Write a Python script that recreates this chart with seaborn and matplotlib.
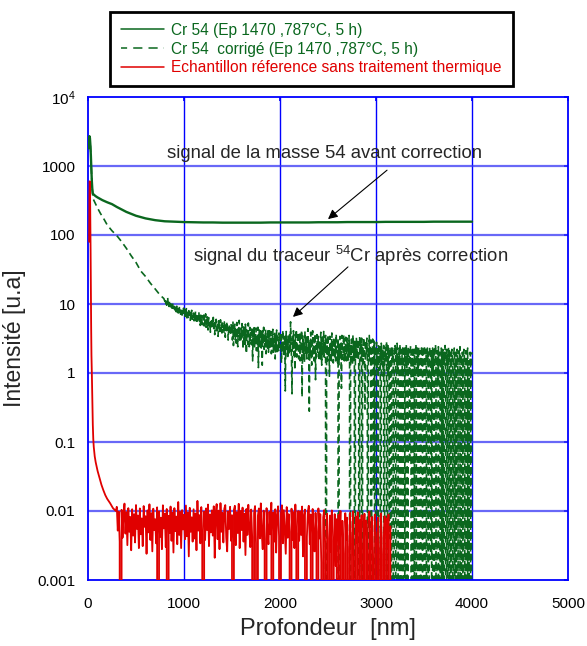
import numpy as np
import pandas as pd
import matplotlib
matplotlib.use('Agg')
import matplotlib.pyplot as plt
import seaborn as sns
from matplotlib.lines import Line2D

sns.set_theme(style='white')
plt.rcParams['font.family'] = ['Liberation Sans', 'DejaVu Sans']
plt.rcParams['mathtext.fontset'] = 'custom'
plt.rcParams['mathtext.rm'] = 'Liberation Sans'
plt.rcParams['mathtext.it'] = 'Liberation Sans:italic'

GREEN = '#0a671e'
RED = '#e00000'
BLUE = '#0000ff'

# --- Cr 54 raw signal (nm, counts) ---
cr54_depth = [5, 10, 15, 20, 25, 30, 35, 40, 45, 50, 60, 80, 100, 150, 200,
              250, 300, 400, 500, 600, 700, 800]
cr54_value = [1800, 2500, 2700, 2550, 2000, 1400, 900, 600, 460, 400, 385, 365,
              350, 320, 298, 280, 255, 216, 190, 174, 164, 158]
# plateau, one value every 100 nm from 900 to 4000
cr54_plateau = [156, 154, 153, 152, 152, 151, 151, 151, 151, 151, 152, 152,
                152, 152, 152, 153, 153, 153, 154, 154, 154, 154, 155, 155,
                155, 155, 155, 156, 156, 156, 156, 156]

# --- Cr 54 corrected (tracer) ---
corr_depth = [5, 10, 15, 20, 25, 30, 35, 40, 45, 50, 60, 80, 100, 130, 160,
              200, 250, 300, 350, 400, 450, 500, 550, 600, 650, 700, 750, 790]
corr_value = [1800, 2500, 2700, 2550, 2000, 1400, 900, 600, 460, 338, 320, 280,
              245, 205, 176, 140, 115, 98, 80, 64, 50, 40, 30, 25, 20, 16.5,
              13.5, 12]
# noisy part, every 5 nm from 800 to 4000 (0 = signal fully subtracted)
corr_noise = [
    11.0, 12.2, 10.1, 11.6, 9.6, 10.9, 12.4, 9.9, 10.6, 9.2, 11.3, 10.0, 9.1, 10.8, 9.5, 8.7, 10.4, 9.3, 8.6, 9.9,
    9.0, 8.2, 9.7, 8.4, 7.7, 9.3, 8.1, 8.9, 7.4, 8.6, 9.5, 7.6, 8.3, 7.1, 8.8, 7.9, 6.9, 8.2, 7.5, 8.7,
    7.3, 8.4, 6.6, 7.8, 6.9, 8.9, 6.3, 7.5, 7.0, 6.1, 8.0, 6.7, 7.6, 5.8, 7.2, 6.5, 8.1, 6.0, 7.0, 6.4,
    7.4, 5.7, 6.8, 6.1, 7.9, 5.5, 6.6, 5.2, 7.1, 6.3, 5.9, 7.7, 5.4, 6.4, 4.9, 6.9, 5.8, 6.2, 5.0, 6.7,
    5.6, 6.9, 4.8, 6.2, 5.3, 7.2, 4.6, 5.9, 5.1, 6.5, 4.2, 5.7, 6.3, 4.9, 5.5, 3.9, 6.1, 5.2, 4.7, 5.8,
    5.0, 6.4, 4.4, 5.6, 3.6, 5.3, 4.7, 6.0, 4.1, 5.2, 4.8, 3.4, 5.7, 4.5, 5.1, 4.0, 5.9, 4.3, 4.9, 3.8,
    5.3, 4.2, 4.8, 3.7, 5.5, 4.4, 3.3, 4.9, 4.1, 5.6, 3.9, 4.6, 3.0, 4.4, 5.0, 3.8, 4.5, 3.5, 5.2, 4.0,
    4.6, 3.0, 5.6, 2.5, 4.2, 3.9, 5.1, 3.0, 4.3, 2.7, 5.4, 3.8, 2.4, 4.4, 3.5, 5.8, 3.0, 4.0, 2.8, 4.5,
    3.2, 5.2, 3.7, 2.2, 4.8, 2.9, 4.6, 2.6, 5.1, 3.4, 1.9, 4.2, 3.0, 2.6, 5.3, 3.3, 2.4, 4.6, 3.0, 3.8,
    2.6, 4.7, 3.4, 1.5, 4.3, 2.7, 4.9, 2.3, 3.6, 2.8, 4.5, 2.1, 3.5, 2.5, 4.6, 1.2, 3.3, 4.2, 2.4, 3.4,
    4.4, 2.3, 3.4, 1.3, 4.1, 2.6, 4.6, 2.2, 3.3, 2.4, 4.3, 1.9, 3.5, 2.7, 2.3, 4.4, 2.0, 3.2, 4.1, 2.5,
    2.3, 4.0, 1.9, 3.2, 2.4, 4.3, 2.0, 3.1, 2.2, 3.9, 1.6, 3.0, 2.3, 4.2, 1.9, 3.3, 2.5, 2.1, 3.8, 2.4,
    3.3, 2.3, 3.9, 1.4, 2.9, 2.0, 4.2, 2.1, 2.8, 1.7, 3.6, 0.55, 2.7, 4.0, 2.2, 3.0, 1.6, 3.5, 1.8, 2.6,
    3.8, 2.0, 5.5, 2.7, 1.6, 0.5, 3.4, 2.3, 4.1, 1.8, 2.6, 1.1, 3.6, 2.0, 4.3, 1.7, 2.7, 2.2, 3.9, 1.6,
    2.1, 3.8, 1.5, 2.6, 2.3, 4.2, 0.45, 2.5, 3.5, 1.7, 2.7, 1.4, 4.0, 2.4, 1.8, 3.3, 1.6, 2.6, 4.4, 2.0,
    3.1, 0.28, 2.7, 1.7, 3.9, 2.4, 1.3, 2.6, 4.1, 1.8, 3.2, 1.5, 2.4, 3.7, 0.8, 2.5, 1.7, 3.6, 2.0, 2.6,
    3.4, 1.5, 2.8, 2.4, 1.6, 3.9, 2.5, 1.3, 3.3, 1.8, 2.6, 4.0, 1.7, 2.7, 2.0, 3.5, 0.0, 2.2, 3.1, 1.5,
    3.6, 1.7, 2.4, 0.9, 3.4, 2.0, 2.9, 1.5, 3.8, 1.8, 2.8, 1.4, 3.3, 2.6, 1.6, 3.0, 1.5, 3.7, 2.2, 1.8,
    1.4, 3.2, 0.0, 2.6, 1.6, 3.4, 1.8, 2.7, 0.6, 3.5, 2.0, 1.6, 2.9, 3.6, 1.5, 2.4, 1.7, 3.3, 1.5, 2.3,
    3.2, 1.4, 2.7, 1.8, 3.5, 2.2, 0.0, 2.6, 1.5, 3.1, 2.5, 1.3, 3.6, 2.1, 1.6, 3.0, 0.0, 2.6, 1.7, 3.3,
    2.5, 1.6, 3.1, 2.7, 1.4, 0.0, 3.4, 2.0, 2.6, 1.5, 3.2, 0.0, 2.5, 1.4, 3.3, 2.7, 1.6, 0.3, 3.0, 1.9,
    2.1, 3.2, 1.5, 0.0, 2.4, 1.6, 3.5, 1.5, 2.3, 3.0, 0.0, 2.1, 1.5, 3.1, 2.2, 0.02, 2.9, 1.6, 0.0, 2.3,
    1.9, 2.8, 1.2, 2.2, 0.0, 2.6, 2.0, 1.1, 2.4, 1.6, 0.0, 2.7, 1.5, 1.8, 2.3, 0.9, 2.5, 0.0, 2.0, 1.7,
    2.3, 1.4, 2.9, 0.0, 1.9, 2.6, 1.0, 2.2, 0.004, 2.4, 1.8, 2.1, 0.0, 2.5, 1.6, 2.0, 1.2, 0.0, 2.4, 1.9,
    2.5, 1.7, 0.0, 2.1, 2.7, 1.1, 1.8, 0.0, 2.3, 1.4, 2.6, 2.0, 0.0, 1.6, 2.2, 0.9, 2.5, 0.0, 2.1, 1.5,
    2.3, 0.0, 1.8, 2.6, 1.2, 2.0, 0.0, 2.4, 1.7, 2.2, 0.05, 1.3, 2.5, 1.9, 0.0, 2.1, 1.0, 2.4, 0.0, 1.8,
    2.2, 0.0, 1.5, 2.6, 1.9, 0.0, 2.3, 1.7, 0.9, 2.4, 0.0, 1.4, 2.1, 1.8, 0.0, 2.5, 1.2, 2.0, 0.0, 1.6,
    2.0, 2.5, 0.0, 1.4, 2.2, 1.1, 0.0, 2.3, 1.6, 2.0, 0.0, 1.3, 2.4, 1.8, 0.002, 2.1, 1.5, 0.0, 2.3, 1.0,
    1.6, 2.2, 0.0, 1.9, 2.6, 1.4, 0.0, 2.1, 1.7, 0.8, 2.4, 0.0, 1.5, 2.0, 1.2, 0.0, 2.3, 1.8, 0.0, 2.2,
    1.7, 0.0, 2.0, 1.5, 2.5, 0.9, 0.0, 2.2, 1.3, 1.9, 0.0, 2.4, 1.6, 2.1, 0.0, 1.4, 2.0, 0.0, 2.2, 1.7,
    1.1, 0.0, 1.9, 2.3, 1.4, 0.0, 2.0, 1.7, 0.0, 2.2, 1.5, 0.9, 0.0, 2.1, 1.6, 2.4, 0.0, 1.3, 1.8, 0.0,
    2.0, 1.5, 0.0, 2.2, 1.8, 1.0, 0.0, 2.1, 1.4, 0.0, 1.9, 2.3, 0.0, 1.5, 1.2, 0.0, 2.0, 1.7, 0.0, 1.8,
    2.0,
]

# --- reference sample without heat treatment ---
ref_depth = [12, 15, 18, 21, 24, 27, 30, 33, 36, 40, 45, 50, 55, 60, 70, 80,
             90, 100, 120, 140, 160, 180, 200, 230, 260, 290]
ref_value = [80, 350, 600, 520, 200, 60, 15, 4.5, 1.8, 1.0, 0.4, 0.18, 0.11,
             0.085, 0.062, 0.051, 0.044, 0.038, 0.030, 0.024, 0.020, 0.017,
             0.015, 0.013, 0.011, 0.010]
# noisy floor, every 10 nm from 300 to 3150, in units of 1e-3
ref_noise_milli = [
    11.5, 5.2, 9.8, 3.6, 0.0, 10.4, 4.1, 8.9, 12.8, 4.7,
    9.6, 3.2, 11.0, 5.0, 8.2, 2.7, 10.6, 4.4, 9.0, 3.5,
    12.2, 5.5, 8.6, 2.9, 10.9, 4.6, 7.8, 3.1, 11.8, 5.9,
    8.4, 2.4, 10.2, 4.9, 12.5, 3.8, 9.3, 2.6, 10.8, 5.3,
    7.6, 3.4, 11.3, 0.0, 9.9, 4.2, 8.0, 2.8, 12.1, 5.6,
    9.1, 3.0, 10.7, 0.0, 8.5, 4.8, 11.6, 3.7, 9.4, 2.5,
    11.0, 5.1, 8.3, 3.3, 13.5, 4.5, 9.7, 2.9, 10.3, 5.4,
    8.8, 3.9, 12.0, 4.3, 9.5, 2.2, 11.1, 5.0, 8.1, 3.6,
    10.6, 4.0, 9.2, 2.7, 14.0, 5.2, 8.7, 3.4, 11.4, 4.6,
    0.0, 9.8, 3.8, 10.9, 5.3, 12.4, 3.1, 8.9, 4.9, 10.2,
    4.4, 11.7, 2.1, 9.0, 12.6, 3.9, 10.1, 2.8, 13.0, 5.0,
    9.4, 3.5, 10.8, 12.2, 4.1, 2.6, 9.9, 5.5, 11.5, 3.7,
    8.7, 0.0, 10.4, 11.9, 3.2, 9.6, 4.8, 12.7, 2.9, 10.0,
    5.3, 11.2, 3.6, 9.1, 2.3, 10.7, 4.5, 12.3, 5.8, 3.0,
    10.5, 4.2, 0.0, 9.3, 11.8, 3.4, 0.0, 8.6, 10.9, 4.0,
    12.9, 4.7, 2.8, 10.1, 3.9, 0.0, 11.0, 5.1, 3.3, 9.7,
    4.6, 13.2, 0.0, 9.5, 3.6, 10.6, 2.5, 8.8, 11.7, 4.3,
    0.0, 9.2, 12.1, 3.4, 10.3, 4.9, 2.4, 11.4, 4.1, 9.0,
    5.0, 0.0, 10.8, 3.8, 9.6, 2.9, 12.4, 4.7, 0.0, 10.0,
    3.7, 9.9, 4.5, 11.6, 2.2, 8.7, 10.5, 0.0, 4.2, 9.8,
    11.9, 3.3, 8.9, 0.0, 10.7, 4.4, 2.6, 9.4, 5.0, 0.0,
    10.9, 4.0, 9.0, 1.8, 0.0, 8.1, 10.3, 3.4, 0.0, 9.1,
    4.0, 0.0, 8.6, 2.6, 10.2, 0.0, 3.6, 9.0, 1.6, 7.6,
    0.0, 8.8, 3.2, 10.0, 0.0, 7.2, 2.4, 0.0, 9.3, 3.8,
    8.0, 0.0, 2.8, 9.4, 3.9, 0.0, 9.9, 2.1, 0.0, 8.3,
    3.5, 9.6, 0.0, 7.4, 1.8, 8.7, 0.0, 3.1, 9.1, 0.0,
    7.3, 2.4, 0.0, 9.8, 3.6, 0.0, 8.2, 1.9, 0.0, 8.9,
    3.8, 0.0, 8.0, 2.7, 0.0, 9.2, 4.1, 0.0, 2.3, 8.4,
    0.0, 7.8, 3.0, 8.9, 0.0, 6.0,
]

legend_labels = ['Cr 54 (Ep 1470 ,787°C, 5 h)',
                 'Cr 54  corrigé (Ep 1470 ,787°C, 5 h)',
                 'Echantillon réference sans traitement thermique']
y_ticks = [0.001, 0.01, 0.1, 1, 10, 100, 1000, 10000]
y_ticklabels = ['0.001', '0.01', '0.1', '1', '10', '100', '1000', '10$^4$']
x_ticks = [0, 1000, 2000, 3000, 4000, 5000]

# assemble the series
raw_df = pd.DataFrame({
    'depth': cr54_depth + list(np.arange(900, 4001, 100)),
    'value': cr54_value + cr54_plateau})
corr_df = pd.DataFrame({
    'depth': corr_depth + list(np.linspace(800, 4000, len(corr_noise))),
    'value': corr_value + corr_noise})
ref_df = pd.DataFrame({
    'depth': ref_depth + list(np.linspace(300, 3150, len(ref_noise_milli))),
    'value': ref_value + [v * 1e-3 for v in ref_noise_milli]})

fig = plt.figure(figsize=(5.87, 6.46), dpi=100)
ax = fig.add_axes([88 / 587, 1 - 580 / 646, 480 / 587, 483 / 646])

sns.lineplot(data=raw_df, x='depth', y='value', ax=ax, color=GREEN, lw=1.7,
             estimator=None, errorbar=None, zorder=3)
sns.lineplot(data=corr_df, x='depth', y='value', ax=ax, color=GREEN, lw=1.2,
             linestyle=(0, (4, 2.5)), estimator=None, errorbar=None, zorder=2)
sns.lineplot(data=ref_df, x='depth', y='value', ax=ax, color=RED, lw=1.3,
             estimator=None, errorbar=None, zorder=4)

ax.set_yscale('log', nonpositive='clip')
ax.set_ylim(0.001, 10000)
ax.set_xlim(0, 5000)
ax.set_yticks(y_ticks)
ax.set_yticklabels(y_ticklabels)
ax.set_xticks(x_ticks)
ax.minorticks_off()

ax.grid(False)
for v in x_ticks[1:-1]:
    ax.axvline(v, color=BLUE, lw=1.0, zorder=1)
for v in y_ticks[1:-1]:
    ax.axhline(v, color='#3535f5', lw=1.6, alpha=0.75, zorder=1)

for s in ax.spines.values():
    s.set_color(BLUE)
    s.set_linewidth(1.3)
ax.tick_params(axis='both', direction='in', length=3, color=BLUE,
               labelsize=11, labelcolor='black', top=True, right=True)
ax.tick_params(axis='x', pad=12)
ax.tick_params(axis='y', pad=9)

ax.set_xlabel('Profondeur  [nm]', fontsize=17, labelpad=5)
ax.set_ylabel('Intensité [u.a]', fontsize=16.5, labelpad=8)

# annotations
ax.text(823, 1306, 'signal de la masse 54 avant correction', fontsize=13.3,
        ha='left', va='baseline')
ax.annotate('', xy=(2500, 170), xytext=(3115, 870),
            arrowprops=dict(arrowstyle='-|>', color='black', lw=0.8,
                            mutation_scale=14, shrinkA=0, shrinkB=0))
ax.text(1094, 40.6, 'signal du traceur $^{54}$Cr après correction', fontsize=13.3,
        ha='left', va='baseline')
ax.annotate('', xy=(2135, 6.5), xytext=(2708, 34.5),
            arrowprops=dict(arrowstyle='-|>', color='black', lw=0.8,
                            mutation_scale=14, shrinkA=0, shrinkB=0))

handles = [Line2D([], [], color=GREEN, lw=1.1),
           Line2D([], [], color=GREEN, lw=1.1, linestyle=(2, (6, 4))),
           Line2D([], [], color=RED, lw=1.1)]
leg = fig.legend(handles, legend_labels, loc='upper left',
                 bbox_to_anchor=(110 / 587, 1 - 12 / 646), frameon=True,
                 fancybox=False, framealpha=1, edgecolor='black', fontsize=11.2,
                 handlelength=2.8, handletextpad=0.45, labelspacing=0.24,
                 borderpad=0.7, borderaxespad=0)
leg.get_frame().set_linewidth(2)
for txt, col in zip(leg.get_texts(), [GREEN, GREEN, RED]):
    txt.set_color(col)

fig.savefig('out.png', dpi=100)
